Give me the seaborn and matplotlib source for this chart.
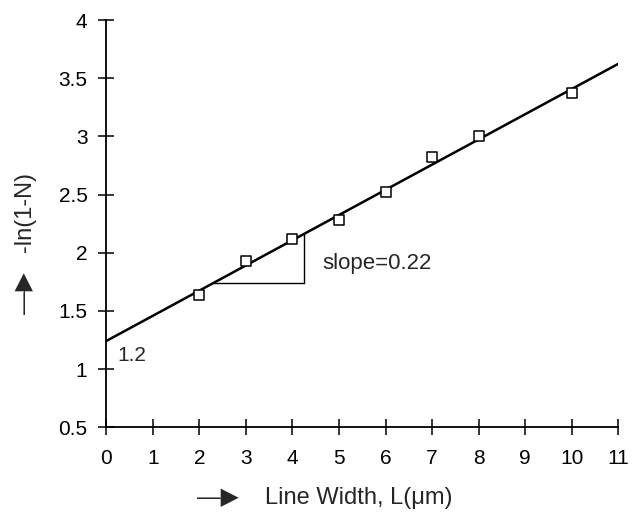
import numpy as np
import pandas as pd
import matplotlib
matplotlib.use("Agg")
import matplotlib.pyplot as plt
import seaborn as sns

line_width = [2, 3, 4, 5, 6, 7, 8, 10]
neg_ln = [1.64, 1.93, 2.12, 2.28, 2.52, 2.82, 3.00, 3.37]

x_ticks = list(range(0, 12))
y_ticks = [0.5, 1, 1.5, 2, 2.5, 3, 3.5, 4]
y_ticklabels = ['0.5', '1', '1.5', '2', '2.5', '3', '3.5', '4']

sns.set_style("white")
plt.rcParams['font.family'] = ['Liberation Sans', 'DejaVu Sans']

df = pd.DataFrame({'L': line_width, 'y': neg_ln})

# linear fit through the points, drawn across the whole axis
slope, intercept = np.polyfit(df['L'], df['y'], 1)
fit = pd.DataFrame({'L': [0, 11]})
fit['y'] = intercept + slope * fit['L']

fig = plt.figure(figsize=(6.4, 5.19), dpi=100)
ax = fig.add_axes([0.166, 0.177, 0.800, 0.784])

sns.lineplot(x='L', y='y', data=fit, ax=ax, color='black', linewidth=1.8)
sns.scatterplot(x='L', y='y', data=df, ax=ax, marker='s', s=42,
                facecolor='white', edgecolor='black', linewidth=1.1, zorder=3)

# slope triangle
x0, x1 = 2.3, 4.24
y0 = intercept + slope * x0
y1 = intercept + slope * x1
ax.plot([x0, x1], [y0, y0], color='black', linewidth=1.0)
ax.plot([x1, x1], [y0, y1], color='black', linewidth=1.0)

ax.text(4.65, 1.91, 'slope=0.22', fontsize=16, va='center', ha='left')
ax.text(0.24, 1.12, '1.2', fontsize=15, va='center', ha='left')

ax.set_xlim(0, 11)
ax.set_ylim(0.5, 4)
ax.set_xticks(x_ticks)
ax.set_yticks(y_ticks)
ax.set_yticklabels(y_ticklabels)

sns.despine(ax=ax)
for s in ['left', 'bottom']:
    ax.spines[s].set_linewidth(1.3)
    ax.spines[s].set_color('black')

ax.tick_params(axis='both', direction='inout', length=11, width=1.1,
               bottom=True, left=True,
               color='black', labelsize=15, labelcolor='black')
ax.tick_params(axis='x', pad=10)
ax.tick_params(axis='y', pad=8)

# axis titles with the arrow marks in front of them
ax.set_xlabel('Line Width, L(\u03bcm)', fontsize=17)
ax.xaxis.set_label_coords(0.56, 0.0405, transform=fig.transFigure)
ax.xaxis.label.set_va('center')
fig.text(0.34, 0.0405, '\u2014\u25b6', fontsize=17, ha='center', va='center')

ax.set_ylabel('-ln(1-N)', fontsize=17)
ax.yaxis.set_label_coords(0.039, 0.591, transform=fig.transFigure)
ax.yaxis.label.set_va('center')
fig.text(0.039, 0.435, '\u2014\u25b6', fontsize=17, ha='center', va='center',
         rotation=90)

fig.savefig('out.png', dpi=100)
